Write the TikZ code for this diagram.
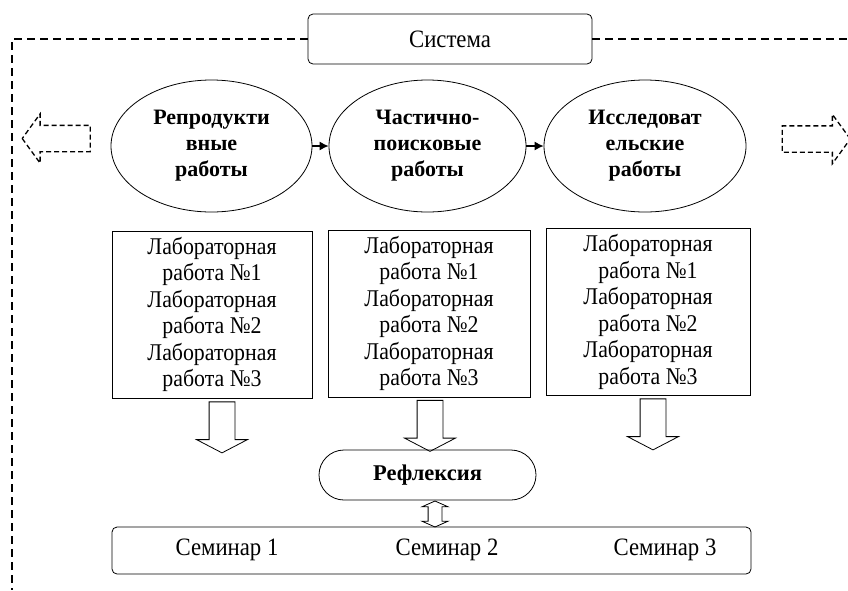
\documentclass[tikz,border=0pt]{standalone}
\usepackage{fontspec}
\setmainfont{Liberation Serif}
\newfontfamily\narrowserif[FakeStretch=0.91]{Liberation Serif}
\usetikzlibrary{shapes.geometric,shapes.misc,shapes.arrows,arrows.meta}

\tikzset{
	frameline/.style={line width=2pt, dash pattern=on 8pt off 5pt},
	stagebox/.style={draw, ellipse, line width=0.8pt, minimum height=132pt, inner sep=0pt, align=center, font=\fontsize{22}{26}\selectfont\bfseries},
	labbox/.style={draw, rectangle, line width=0.8pt, minimum height=167pt, inner sep=0pt, align=center, font=\narrowserif\fontsize{24}{26.5}\selectfont},
	roundbox/.style={draw, rectangle, rounded corners=5pt, line width=0.8pt, inner sep=0pt},
	seminartext/.style={font=\narrowserif\fontsize{25}{28}\selectfont},
	downarrow/.style={draw, single arrow, line width=0.8pt, rotate=-90, inner xsep=0pt, inner ysep=12.5pt, outer sep=0pt, single arrow head extend=12.5pt, single arrow tip angle=125, minimum height=51pt},
	sidearrow/.style={draw, single arrow, line width=1.3pt, dash pattern=on 5pt off 3pt, inner xsep=0pt, inner ysep=12.5pt, outer sep=0pt, single arrow head extend=11.5pt, single arrow tip angle=108, minimum height=68pt},
	linkarrow/.style={line width=1.2pt, -{Latex[length=9pt,width=9pt]}}
}

\begin{document}
\begin{tikzpicture}[x=1pt, y=-1pt]
	\useasboundingbox (0,0) rectangle (848,590);

	\node[roundbox, minimum width=284pt, minimum height=50pt, font=\narrowserif\fontsize{25}{28}\selectfont] (system) at (450,39) {Система};
	\draw[frameline] (system.west) -- (12,39) -- (12,590);
	\draw[frameline] (system.east) -- (848,39);

	\node[sidearrow, shape border rotate=180] (leftout) at (61,138.5) {};
	\node[sidearrow] (rightout) at (811.5,139) {};

	\node[stagebox, minimum width=201pt] (repro) at (211.5,146) {Репродукти\\вные\\работы};
	\node[stagebox, minimum width=197pt] (partial) at (427.5,146) {Частично-\\поисковые\\работы};
	\node[stagebox, minimum width=202pt] (research) at (645,146) {Исследоват\\ельские\\работы};
	\draw[linkarrow] (repro) -- (partial);
	\draw[linkarrow] (partial) -- (research);

	\node[labbox, minimum width=200pt] (labs1) at (212,314.5) {Лабораторная\\работа №1\\Лабораторная\\работа №2\\Лабораторная\\работа №3};
	\node[labbox, minimum width=202pt] (labs2) at (429,313.5) {Лабораторная\\работа №1\\Лабораторная\\работа №2\\Лабораторная\\работа №3};
	\node[labbox, minimum width=204pt] (labs3) at (648,312) {Лабораторная\\работа №1\\Лабораторная\\работа №2\\Лабораторная\\работа №3};

	\node[downarrow] (down1) at (222,424) {};
	\node[downarrow] (down2) at (430,422.5) {};
	\node[downarrow] (down3) at (653,421) {};

	\node[roundbox, rounded corners=25pt, minimum width=217pt, minimum height=50pt, font=\fontsize{22.5}{26}\selectfont\bfseries] (reflex) at (427.5,475) {Рефлексия};

	\node[roundbox, minimum width=639pt, minimum height=47pt] (seminars) at (431.5,550.5) {};
	\node[seminartext] (sem1) at (227,550) {Семинар 1};
	\node[seminartext] (sem2) at (447,550) {Семинар 2};
	\node[seminartext] (sem3) at (665,550) {Семинар 3};

	\node[draw, double arrow, line width=0.8pt, rotate=90, inner xsep=0pt, inner ysep=6.5pt, outer sep=0pt, double arrow head extend=6pt, double arrow tip angle=132, minimum height=26pt] (link) at (435,514) {};
\end{tikzpicture}
\end{document}
